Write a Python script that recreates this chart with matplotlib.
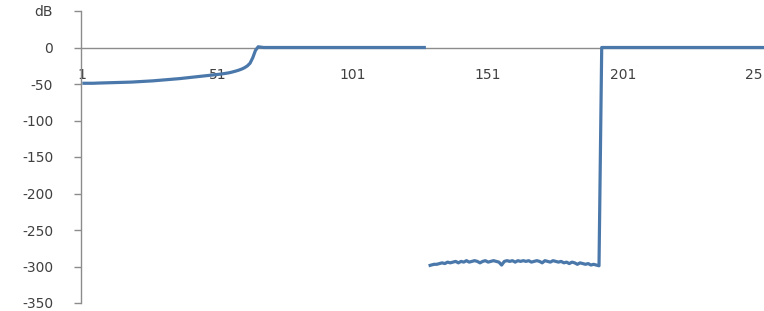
import numpy as np
import matplotlib
matplotlib.use("Agg")
import matplotlib.pyplot as plt

# ---- data ----
# rising section, categories 1..66
seg_rise = [-49, -49, -49, -49, -49, -48.8, -48.7, -48.6, -48.5, -48.4,
            -48.3, -48.2, -48.1, -48, -47.9, -47.8, -47.7, -47.5, -47.4, -47.2,
            -47.0, -46.8, -46.6, -46.4, -46.2, -46.0, -45.7, -45.4, -45.1, -44.8,
            -44.5, -44.2, -43.9, -43.6, -43.3, -43.0, -42.6, -42.2, -41.8, -41.4,
            -41.0, -40.6, -40.2, -39.8, -39.4, -39.0, -38.6, -38.2, -37.8, -37.4,
            -37.0, -36.5, -36.0, -35.4, -34.8, -34.0, -33.0, -32.0, -30.8, -29.4,
            -27.6, -25.2, -21.5, -14, -4, 1]
# flat pass band, categories 67..128
seg_pass = [0.5] + [0.0] * 61
# stop band noise, categories 129..192
seg_stop = [-299, -298, -297, -297, -296, -295, -296, -294, -295, -294, -293, -295,
            -293, -294, -292, -294, -293, -292, -293, -295, -293, -292, -294, -293,
            -292, -293, -294, -298, -293, -292, -293, -292, -294, -292, -293, -292,
            -293, -292, -294, -293, -292, -293, -295, -292, -293, -294, -292, -293,
            -294, -293, -295, -294, -296, -294, -295, -297, -295, -296, -297, -296,
            -298, -297, -298, -299]
# flat after, categories 193..256
seg_after = [0.0] * 64

part1 = seg_rise + seg_pass
part2 = seg_stop + seg_after
cats1 = np.arange(1, len(part1) + 1)
cats2 = np.arange(len(part1) + 1, len(part1) + len(part2) + 1)

xtick_values = [1, 51, 101, 151, 201, 251]
xtick_labels = ["1", "51", "101", "151", "201", "251"]
ytick_values = [50, 0, -50, -100, -150, -200, -250, -300, -350]
ytick_labels = ["dB", "0", "-50", "-100", "-150", "-200", "-250", "-300", "-350"]

# ---- figure ----
W, H = 764, 311
fig = plt.figure(figsize=(W / 100, H / 100), dpi=100)
fig.patch.set_facecolor("white")
px_per_cat = 2.705
x0 = 0.5
x1 = 256.5
left_px = 81
width_px = (x1 - x0) * px_per_cat
ax = fig.add_axes([left_px / W, 1 - 303 / H, width_px / W, (303 - 11) / H])
ax.set_facecolor("white")

line_col = "#4B78AA"
for cx, vy in ((cats1, part1), (cats2, part2)):
    ax.plot(cx, vy, color=line_col, lw=2.3, solid_joinstyle="round",
            solid_capstyle="butt", zorder=3)

ax.set_xlim(x0, x1)
ax.set_ylim(-350, 50)

axis_col = "#8C8C8C"
for s in ["top", "right"]:
    ax.spines[s].set_visible(False)
ax.spines["left"].set_color(axis_col)
ax.spines["left"].set_linewidth(1.0)
ax.spines["bottom"].set_position(("data", 0))
ax.spines["bottom"].set_color(axis_col)
ax.spines["bottom"].set_linewidth(1.0)

ax.set_yticks(ytick_values)
ax.set_yticklabels(ytick_labels)
ax.tick_params(axis="y", direction="out", length=5, width=1, color=axis_col,
               pad=15, labelsize=10, labelcolor="#404040")
ax.set_xticks(xtick_values)
ax.set_xticklabels(xtick_labels)
ax.tick_params(axis="x", length=0, pad=15, labelsize=10, labelcolor="#404040")
for lab in ax.get_xticklabels() + ax.get_yticklabels():
    lab.set_fontfamily("DejaVu Sans")

fig.savefig("out.png", dpi=100, facecolor="white")
